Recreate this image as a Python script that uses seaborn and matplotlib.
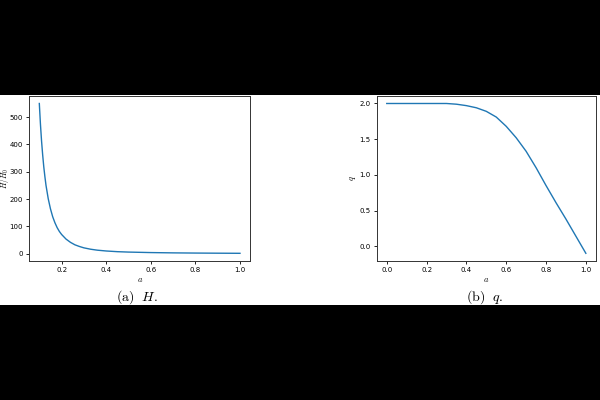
import matplotlib
matplotlib.use("Agg")
import matplotlib.pyplot as plt
import seaborn as sns
import pandas as pd

# Panel (a): H/H0 vs a
a_H = [0.1, 0.105, 0.11, 0.115, 0.12, 0.125, 0.13, 0.14, 0.15, 0.16, 0.17, 0.18,
       0.19, 0.2, 0.22, 0.24, 0.26, 0.28, 0.3, 0.33, 0.36, 0.4, 0.45, 0.5, 0.6,
       0.7, 0.8, 0.9, 1.0]
H_vals = [550, 475, 413, 362, 318, 282, 250, 201, 164, 135, 113, 95,
          81, 70, 53, 41, 32, 26, 21, 16, 12.5, 9.5, 7, 5.5, 3.7,
          2.6, 1.9, 1.4, 1.0]

# Panel (b): q vs a
a_q = [0.0, 0.1, 0.2, 0.3, 0.35, 0.4, 0.45, 0.5, 0.55, 0.6, 0.65, 0.7, 0.75,
       0.8, 0.85, 0.9, 0.95, 1.0]
q_vals = [2.0, 2.0, 2.0, 2.0, 1.99, 1.97, 1.94, 1.89, 1.81, 1.68, 1.52, 1.33, 1.10,
          0.85, 0.61, 0.38, 0.14, -0.10]

plt.rcParams['mathtext.fontset'] = 'cm'

fig = plt.figure(figsize=(6, 4), dpi=100, facecolor='black')
bg = fig.add_axes([0, 0.2375, 1, 0.525], zorder=-5)
bg.set_facecolor('white')
bg.set_xticks([])
bg.set_yticks([])
for s in bg.spines.values():
    s.set_visible(False)

ax1 = fig.add_axes([0.0488, 0.348, 0.3679, 0.412], zorder=1)
ax2 = fig.add_axes([0.628, 0.348, 0.365, 0.412], zorder=1)

df1 = pd.DataFrame({'a': a_H, 'H': H_vals})
df2 = pd.DataFrame({'a': a_q, 'q': q_vals})

sns.lineplot(data=df1, x='a', y='H', ax=ax1, color='#1f77b4', linewidth=1.0)
sns.lineplot(data=df2, x='a', y='q', ax=ax2, color='#1f77b4', linewidth=1.0)

ax1.set_xticks([0.2, 0.4, 0.6, 0.8, 1.0])
ax1.set_yticks([0, 100, 200, 300, 400, 500])
ax2.set_xticks([0.0, 0.2, 0.4, 0.6, 0.8, 1.0])
ax2.set_yticks([0.0, 0.5, 1.0, 1.5, 2.0])

for ax in (ax1, ax2):
    ax.set_facecolor('white')
    ax.tick_params(labelsize=5, length=2.5, width=0.6, pad=2)
    for s in ax.spines.values():
        s.set_linewidth(0.7)
        s.set_color('#333333')
    ax.set_xlabel('$a$', fontsize=6, labelpad=1.5)

ax1.set_ylabel('$H/H_0$', fontsize=5.5)
ax2.set_ylabel('$q$', fontsize=6)
ax1.yaxis.set_label_coords(-0.085, 0.5)
ax2.yaxis.set_label_coords(-0.088, 0.5)

fig.text(0.228, 0.256, r'$\mathrm{(a)}\ \ H.$', ha='center', va='center', fontsize=10)
fig.text(0.808, 0.256, r'$\mathrm{(b)}\ \ q.$', ha='center', va='center', fontsize=10)

fig.savefig('out.png', dpi=100, facecolor='black')
